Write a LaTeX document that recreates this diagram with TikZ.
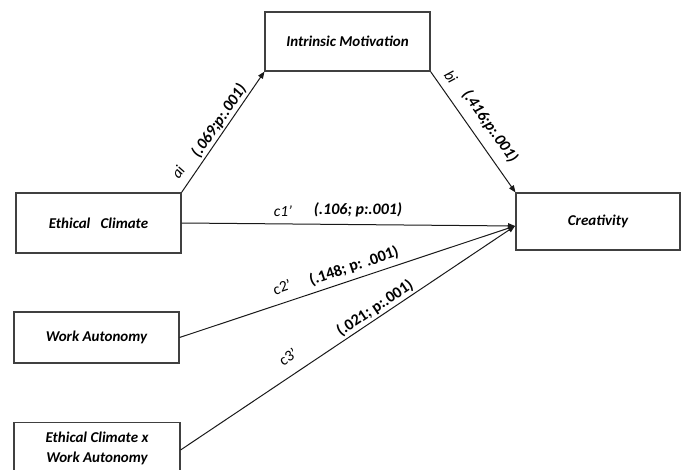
\documentclass[tikz,border=0pt]{standalone}
\usepackage{fontspec}
\setmainfont{Carlito}
\usetikzlibrary{arrows.meta}
\begin{document}
\begin{tikzpicture}[x=1pt,y=-1pt,
  box/.style={draw=black!75, line width=1.1pt, rectangle, minimum width=165pt, inner sep=0pt,
     font=\fontsize{15}{20}\selectfont\bfseries\itshape, align=center},
  arr/.style={draw=black!90, line width=1pt, -{Triangle[length=7pt,width=5.5pt]}},
  lab/.style={font=\fontsize{15.5}{17}\selectfont\itshape, inner sep=0pt},
  val/.style={font=\fontsize{16}{17}\selectfont\bfseries\itshape, inner sep=0pt},
  valu/.style={font=\fontsize{16}{17}\selectfont\bfseries, inner sep=0pt},
  labu/.style={font=\fontsize{15.5}{17}\selectfont, inner sep=0pt}]
\useasboundingbox (0,0) rectangle (684,470);
\begin{scope}
\clip (0,0) rectangle (684,470);
\node[box, minimum height=59pt] (im) at (347.5,41.5) {Intrinsic Motivation};
\node[box, minimum height=57pt, minimum width=164pt] (cr) at (598,221.5) {Creativity};
\node[box, minimum height=60pt] (ec) at (98.5,223) {Ethical\ \ \ Climate};
\node[box, minimum height=51pt] (wa) at (96.5,337.5) {Work Autonomy};
\node[box, minimum height=52pt, minimum width=166pt] (ew) at (97,448.5) {Ethical Climate x\\Work Autonomy};
\end{scope}
\coordinate (tgt) at (515,226);
\draw[arr] (ec.north east) -- (im.south west);
\draw[arr] (im.south east) -- (cr.north west);
\draw[arr] (ec.east) -- (tgt);
\draw[arr] (wa.east) -- (tgt);
\draw[arr] (ew.east |- 0,450) coordinate (ewo) -- (tgt);
\node[lab, rotate=55.5] (lai) at (178,172) {ai};
\node[val, rotate=55.5] (vai) at (219,121) {(.069;p:.001)};
\node[lab, rotate=-54.8] (lbi) at (451,77) {bi};
\node[val, rotate=-54.8] (vbi) at (490,126) {(.416;p:.001)};
\node[lab] (lc1) at (283,211) {c1\textquoteright};
\node[val] (vc1) at (358,210) {(.106; p:.001)};
\node[labu, rotate=18.4] (lc2) at (282,287) {c2\textquoteright};
\node[valu, rotate=18.4] (vc2) at (354,266) {(.148; p: .001)};
\node[labu, rotate=33.7] (lc3) at (288,357) {c3\textquoteright};
\node[valu, rotate=33.7] (vc3) at (375,308) {(.021; p:.001)};
\end{tikzpicture}
\end{document}
